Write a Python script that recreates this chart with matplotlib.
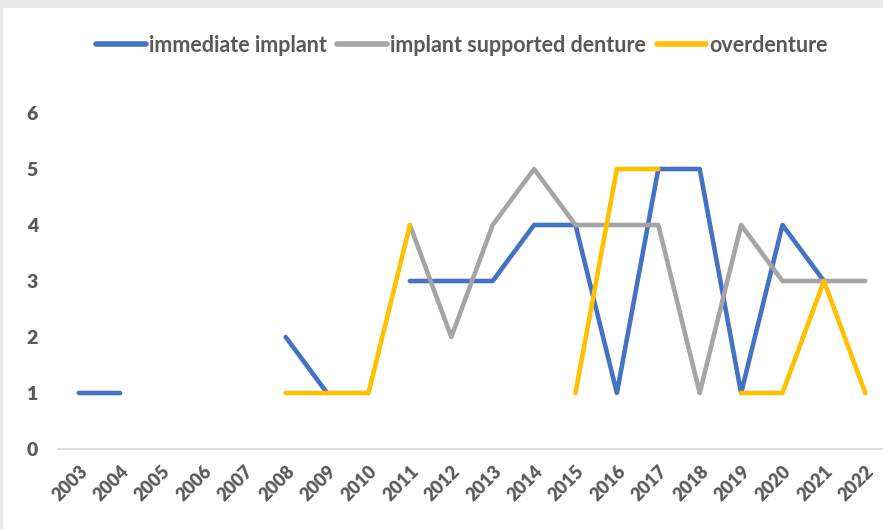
import numpy as np
import matplotlib
matplotlib.use("Agg")
import matplotlib.pyplot as plt
from matplotlib.patches import Rectangle

nan = np.nan

years = list(range(2003, 2023))
immediate_implant = [1, 1, nan, nan, nan, 2, 1, nan, 3, 3, 3, 4, 4, 1, 5, 5, 1, 4, 3, nan]
implant_supported_denture = [nan, nan, nan, nan, nan, nan, nan, nan, 4, 2, 4, 5, 4, 4, 4, 1, 4, 3, 3, 3]
overdenture = [nan, nan, nan, nan, nan, 1, 1, 1, 4, nan, nan, nan, 1, 5, 5, nan, 1, 1, 3, 1]

series = [
    ("immediate implant", immediate_implant, "#4472C4"),
    ("implant supported denture", implant_supported_denture, "#A5A5A5"),
    ("overdenture", overdenture, "#FFC000"),
]

text_color = "#595959"
plt.rcParams["font.family"] = ["Lato", "DejaVu Sans"]
plt.rcParams["font.weight"] = "bold"

W, H = 883, 529
fig = plt.figure(figsize=(W / 100, H / 100), dpi=100, facecolor="#E7E8EA")
# white chart area inside the grey frame
fig.patches.append(Rectangle((3 / W, 0), 1, 1 - 8 / H, transform=fig.transFigure,
                             facecolor="white", edgecolor="none", zorder=-5))

ax = fig.add_axes([58 / W, 1 - 449 / H, 828 / W, 336 / H])
ax.set_facecolor("none")

x = np.arange(len(years))
for name, vals, color in series:
    ax.plot(x, np.array(vals, dtype=float), color=color, lw=3.3, label=name,
            solid_capstyle="round", solid_joinstyle="round", clip_on=False)

ax.set_xlim(-0.5, len(years) - 0.5)
ax.set_ylim(0, 6)
ax.set_yticks(range(0, 7))
ax.set_xticks(x)
ax.set_xticklabels([str(y) for y in years], rotation=45, ha="right",
                   rotation_mode="anchor", fontsize=13, color=text_color,
                   fontweight="heavy")
for lbl in ax.get_yticklabels():
    lbl.set_fontsize(14)
    lbl.set_color(text_color)
    lbl.set_fontweight("heavy")
ax.tick_params(axis="both", length=0)
ax.tick_params(axis="y", pad=14.5)
ax.tick_params(axis="x", pad=10)

for side in ["top", "right", "left"]:
    ax.spines[side].set_visible(False)
ax.spines["bottom"].set_color("#D9D9D9")
ax.spines["bottom"].set_linewidth(1.2)

leg = fig.legend(loc="center", bbox_to_anchor=(462 / W, 1 - 45 / H), ncol=3,
                 frameon=False, fontsize=15.5, handlelength=2.3,
                 handletextpad=0.15, columnspacing=0.5)
for t in leg.get_texts():
    t.set_color(text_color)
for h in leg.get_lines():
    h.set_linewidth(4)
    h.set_solid_capstyle("round")

fig.savefig("out.png", dpi=100, facecolor=fig.get_facecolor())
